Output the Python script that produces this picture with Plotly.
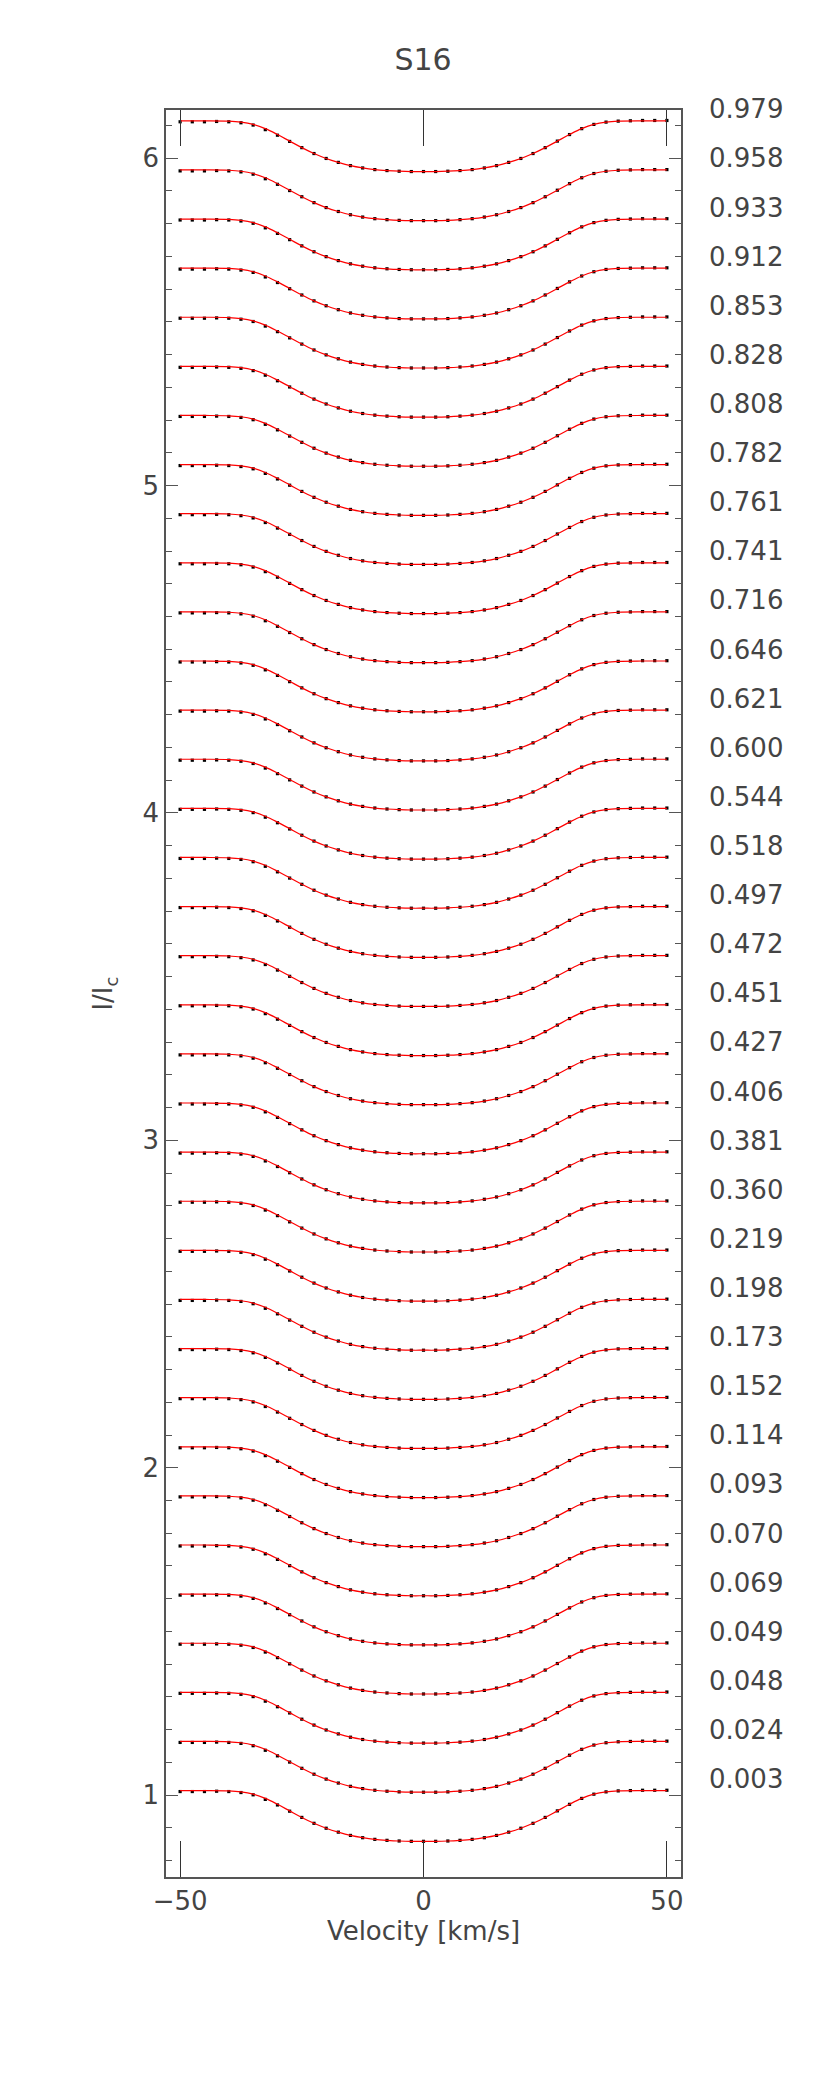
import plotly.graph_objects as go

phases = ["0.979","0.958","0.933","0.912","0.853","0.828","0.808","0.782","0.761","0.741",
          "0.716","0.646","0.621","0.600","0.544","0.518","0.497","0.472","0.451","0.427",
          "0.406","0.381","0.360","0.219","0.198","0.173","0.152","0.114","0.093","0.070",
          "0.069","0.049","0.048","0.024","0.003"]
# continuum level of each profile, bottom (0.003) to top (0.979)
offsets = [1.014, 1.164, 1.314, 1.464, 1.614, 1.764, 1.914, 2.064, 2.214, 2.364,
           2.514, 2.664, 2.814, 2.964, 3.114, 3.264, 3.414, 3.564, 3.714, 3.864,
           4.014, 4.164, 4.314, 4.464, 4.614, 4.764, 4.914, 5.064, 5.214, 5.364,
           5.514, 5.664, 5.814, 5.964, 6.114]
# observed line depth vs velocity
v_obs = [-50,-47.5,-45,-42.5,-40,-37.5,-35,-32.5,-30,-27.5,-25,-22.5,-20,-17.5,-15,-12.5,-10,-7.5,-5,-2.5,
         0,2.5,5,7.5,10,12.5,15,17.5,20,22.5,25,27.5,30,32.5,35,37.5,40,42.5,45,47.5,50]
d_obs = [0.003,0.003,0.003,0.002,0.003,0.006,0.013,0.027,0.044,0.063,0.082,0.100,0.115,0.127,0.137,0.144,0.149,0.152,0.154,0.155,
         0.155,0.155,0.154,0.152,0.149,0.144,0.137,0.127,0.115,0.100,0.082,0.062,0.042,0.024,0.011,0.004,0.001,0.0,-0.001,-0.001,-0.001]
# model line depth
v_mod = [-50,-45,-40,-37.5,-35,-32.5,-30,-27.5,-25,-22.5,-20,-17.5,-15,-12.5,-10,-7.5,-5,-2.5,0,
         2.5,5,7.5,10,12.5,15,17.5,20,22.5,25,27.5,30,32.5,35,37.5,40,45,50]
d_mod = [0.0,0.0,0.001,0.004,0.011,0.024,0.042,0.062,0.082,0.100,0.115,0.127,0.137,0.144,0.149,0.152,0.154,0.155,0.155,
         0.155,0.154,0.152,0.149,0.144,0.137,0.127,0.115,0.100,0.082,0.062,0.042,0.024,0.011,0.004,0.001,0.0,0.0]

Y0, Y1 = 0.75, 6.147

fig = go.Figure()
for off in offsets:
    fig.add_trace(go.Scatter(x=v_obs, y=[off - d for d in d_obs], mode="markers",
                             marker=dict(symbol="square", size=3.2, color="black"),
                             showlegend=False, hoverinfo="skip"))
    fig.add_trace(go.Scatter(x=v_mod, y=[off - d for d in d_mod], mode="lines",
                             line=dict(color="red", width=1.2, shape="spline"),
                             showlegend=False, hoverinfo="skip"))

font = dict(family="DejaVu Sans", size=26, color="#444")
for lab, off in zip(phases, offsets[::-1]):
    fig.add_annotation(x=1.05, xref="paper", y=(off + 0.035 - Y0) / (Y1 - Y0), yref="paper",
                       text=lab, showarrow=False, xanchor="left", yanchor="middle", font=font)

fig.update_xaxes(range=[-52.9, 52.9], tickvals=[-50, 0, 50], ticktext=["\u221250", "0", "50"],
                 ticks="inside", ticklen=36, tickcolor="#333", mirror="ticks",
                 showline=True, linecolor="#555", linewidth=1.5, showgrid=False, zeroline=False,
                 title=dict(text="Velocity [km/s]", font=font, standoff=6), tickfont=font)
fig.update_yaxes(range=[Y0, Y1], tickvals=[1, 2, 3, 4, 5, 6],
                 ticks="inside", ticklen=12, tickcolor="#555", mirror="ticks",
                 minor=dict(dtick=0.1, ticks="inside", ticklen=6, tickcolor="#555"),
                 showline=True, linecolor="#555", linewidth=1.5, showgrid=False, zeroline=False,
                 title=dict(text="I/I<sub>c</sub>", font=font, standoff=22), tickfont=font)
fig.update_layout(width=830, height=2077, margin=dict(l=158, r=157, t=102, b=208),
                  plot_bgcolor="white", paper_bgcolor="white",
                  title=dict(text="S16", x=0.5, xanchor="center", y=0.975, yanchor="middle",
                             font=dict(family="DejaVu Sans", size=30, color="#444")))
fig.write_html("out.html")
